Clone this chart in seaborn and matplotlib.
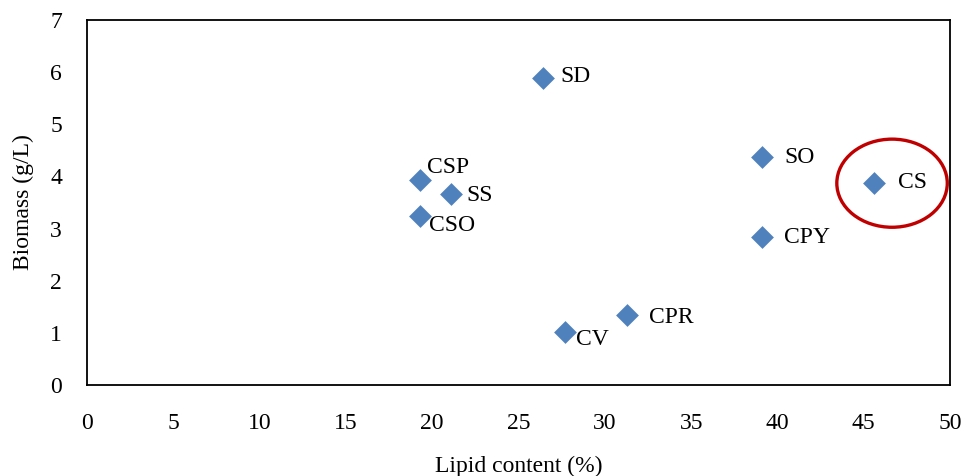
import matplotlib
matplotlib.use("Agg")
import matplotlib.pyplot as plt
import seaborn as sns
import pandas as pd
from matplotlib.patches import Ellipse

strains = ["SD", "CSP", "SS", "CSO", "SO", "CS", "CPY", "CPR", "CV"]
lipid = [26.4, 19.3, 21.1, 19.3, 39.1, 45.6, 39.1, 31.3, 27.7]
biomass = [5.88, 3.93, 3.66, 3.24, 4.37, 3.88, 2.84, 1.34, 1.02]
# label offsets (pixels) relative to each point
label_dx = [18, 7, 15, 9, 22, 24, 22, 22, 11]
label_dy = [2, 13, -1, -9, 0, 0, -1, -2, -8]

x_ticks = [0, 5, 10, 15, 20, 25, 30, 35, 40, 45, 50]
y_ticks = [0, 1, 2, 3, 4, 5, 6, 7]

df = pd.DataFrame({"strain": strains, "lipid": lipid, "biomass": biomass})

sns.set_theme(style="white")
plt.rcParams["font.family"] = ["Liberation Serif", "DejaVu Serif"]

fig = plt.figure(figsize=(9.65, 4.76), dpi=100)
ax = fig.add_axes([0.0902, 0.1912, 0.8943, 0.7668])

sns.scatterplot(data=df, x="lipid", y="biomass", marker="D", s=135,
                color="#4F81BD", edgecolor="#4F81BD", linewidth=0, ax=ax, zorder=3)

for s, x, y, dx, dy in zip(strains, lipid, biomass, label_dx, label_dy):
    ax.annotate(s, (x, y), xytext=(dx, dy), textcoords="offset pixels",
                ha="left", va="center", fontsize=17, color="black")

ell = Ellipse((46.64, 3.87), width=6.4, height=1.69, fill=False,
              edgecolor="#C00000", linewidth=2.4, zorder=4)
ax.add_patch(ell)

ax.set_xlim(0, 50)
ax.set_ylim(0, 7)
ax.set_xticks(x_ticks)
ax.set_yticks(y_ticks)
ax.tick_params(axis="both", length=0, labelsize=17, colors="black")
ax.tick_params(axis="x", pad=20)
ax.tick_params(axis="y", pad=18)
for sp in ax.spines.values():
    sp.set_color("black")
    sp.set_linewidth(1.3)
    sp.set_visible(True)
ax.set_xlabel("Lipid content (%)", fontsize=17, color="black", labelpad=16)
ax.set_ylabel("Biomass (g/L)", fontsize=17, color="black", labelpad=12)
ax.grid(False)

fig.savefig("out.png", dpi=100)
